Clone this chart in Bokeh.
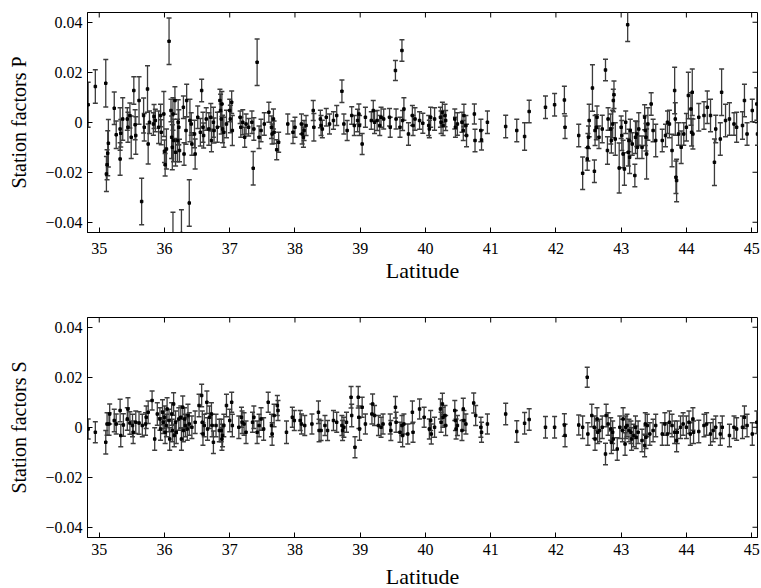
import math
from bokeh.plotting import figure
from bokeh.layouts import column
from bokeh.models import ColumnDataSource, LinearAxis, FixedTicker, Range1d
from bokeh.embed import file_html
from bokeh.resources import INLINE

# ---------------- data: P station factors ----------------
lat_p = [34.83, 34.94, 35.10, 35.11, 35.12, 35.13, 35.14, 35.23, 35.26, 35.32, 35.32, 35.33, 35.36, 35.43,
         35.44, 35.47, 35.49, 35.53, 35.55, 35.56, 35.61, 35.65, 35.68, 35.69, 35.74, 35.75, 35.77, 35.83,
         35.84, 35.86, 35.91, 35.94, 35.95, 35.99, 36.00, 36.01, 36.03, 36.07, 36.10, 36.11, 36.12, 36.13,
         36.14, 36.13, 36.16, 36.17, 36.20, 36.21, 36.22, 36.23, 36.26, 36.29, 36.30, 36.33, 36.34, 36.38,
         36.39, 36.41, 36.42, 36.46, 36.47, 36.51, 36.55, 36.57, 36.59, 36.60, 36.64, 36.68, 36.71, 36.72,
         36.75, 36.76, 36.81, 36.85, 36.86, 36.87, 36.88, 36.89, 36.91, 36.95, 37.00, 37.01, 37.03, 37.04,
         37.16, 37.17, 37.20, 37.23, 37.25, 37.29, 37.34, 37.36, 37.37, 37.42, 37.45, 37.48, 37.53, 37.60,
         37.64, 37.65, 37.67, 37.68, 37.72, 37.75, 37.89, 37.97, 38.00, 38.10, 38.11, 38.13, 38.14, 38.17,
         38.28, 38.29, 38.39, 38.40, 38.42, 38.48, 38.53, 38.59, 38.64, 38.72, 38.75, 38.80, 38.87, 38.91,
         38.96, 38.98, 38.99, 39.03, 39.08, 39.17, 39.20, 39.22, 39.26, 39.30, 39.32, 39.36, 39.45, 39.46,
         39.54, 39.55, 39.61, 39.64, 39.65, 39.67, 39.74, 39.80, 39.81, 39.84, 39.91, 39.96, 40.05, 40.06,
         40.08, 40.14, 40.23, 40.24, 40.26, 40.27, 40.30, 40.31, 40.45, 40.46, 40.49, 40.56, 40.58, 40.59,
         40.62, 40.63, 40.75, 40.76, 40.85, 40.86, 40.95, 41.23, 41.40, 41.52, 41.59, 41.84, 41.98, 42.13,
         42.14, 42.35, 42.41, 42.48, 42.49, 42.50, 42.51, 42.56, 42.59, 42.60, 42.62, 42.63, 42.66, 42.71,
         42.76, 42.79, 42.80, 42.84, 42.85, 42.87, 42.88, 42.89, 42.91, 42.97, 43.00, 43.01, 43.03, 43.05,
         43.07, 43.10, 43.11, 43.12, 43.13, 43.14, 43.17, 43.21, 43.22, 43.24, 43.25, 43.27, 43.32, 43.36,
         43.37, 43.38, 43.39, 43.41, 43.46, 43.49, 43.53, 43.63, 43.68, 43.71, 43.74, 43.78, 43.82, 43.83,
         43.84, 43.85, 43.88, 43.92, 43.96, 44.00, 44.03, 44.07, 44.08, 44.09, 44.10, 44.19, 44.27, 44.32,
         44.37, 44.43, 44.45, 44.52, 44.54, 44.60, 44.66, 44.73, 44.77, 44.86, 44.89, 44.93, 45.01, 45.08,
         45.09]
val_p = [0.0070, 0.0143, 0.0156, -0.0207, -0.0170, -0.0124, -0.0084, 0.0056, -0.0050, -0.0027, -0.0147, -0.0044, 0.0013, 0.0013,
         -0.0020, 0.0027, -0.0060, 0.0127, -0.0010, -0.0053, 0.0087, -0.0317, 0.0027, -0.0020, 0.0133, -0.0087, 0.0000, -0.0007,
         0.0023, 0.0007, -0.0020, 0.0027, -0.0040, 0.0033, -0.0116, -0.0170, -0.0107, 0.0324, 0.0047, -0.0060, -0.0100, 0.0033,
         -0.0073, -0.0455, 0.0087, -0.0120, -0.0073, 0.0000, -0.0020, -0.0113, -0.0445, 0.0060, -0.0127, -0.0033, 0.0087, -0.0323,
         0.0007, -0.0007, -0.0087, -0.0047, -0.0127, 0.0020, -0.0040, 0.0127, -0.0020, -0.0053, 0.0013, -0.0027, 0.0020, -0.0073,
         0.0000, -0.0033, -0.0020, 0.0087, 0.0047, 0.0013, 0.0073, -0.0027, -0.0040, -0.0007, 0.0047, 0.0013, 0.0080, -0.0033,
         0.0020, -0.0020, 0.0000, -0.0060, -0.0007, -0.0020, 0.0000, -0.0184, -0.0027, 0.0240, -0.0060, -0.0033, -0.0007, 0.0040,
         -0.0020, -0.0047, 0.0013, -0.0040, -0.0110, -0.0080, -0.0007, -0.0040, -0.0020, -0.0007, -0.0047, -0.0060, -0.0033, -0.0013,
         0.0047, -0.0020, 0.0013, -0.0013, -0.0027, 0.0020, -0.0007, 0.0007, 0.0027, 0.0124, -0.0007, -0.0033, 0.0027, -0.0013,
         0.0007, 0.0033, -0.0013, -0.0087, 0.0020, 0.0007, 0.0047, 0.0000, 0.0007, -0.0013, 0.0020, 0.0013, 0.0020, -0.0020,
         0.0207, 0.0013, -0.0020, 0.0287, 0.0007, 0.0053, -0.0047, 0.0027, -0.0013, 0.0013, 0.0007, -0.0004, -0.0013, -0.0027,
         0.0020, 0.0013, 0.0020, 0.0000, 0.0040, -0.0013, 0.0027, 0.0007, 0.0013, -0.0020, -0.0007, 0.0000, -0.0033, 0.0027,
         -0.0013, -0.0053, 0.0033, -0.0073, -0.0033, -0.0071, 0.0000, -0.0017, -0.0033, -0.0057, 0.0043, 0.0060, 0.0070, 0.0089,
         -0.0020, -0.0053, -0.0204, -0.0147, -0.0100, -0.0060, 0.0007, 0.0137, -0.0196, -0.0033, -0.0020, 0.0020, -0.0060, -0.0027,
         0.0209, -0.0113, 0.0013, -0.0027, -0.0073, -0.0007, 0.0087, 0.0110, -0.0067, -0.0183, -0.0020, -0.0053, -0.0127, -0.0187,
         0.0000, 0.0390, -0.0120, -0.0073, -0.0140, -0.0033, -0.0087, -0.0213, -0.0060, -0.0047, -0.0100, -0.0027, -0.0100, 0.0020,
         -0.0033, -0.0060, -0.0127, -0.0007, 0.0073, -0.0033, -0.0073, -0.0073, -0.0053, 0.0000, -0.0007, -0.0113, 0.0127, 0.0013,
         -0.0220, -0.0233, -0.0047, -0.0100, -0.0047, -0.0020, 0.0107, 0.0053, -0.0040, 0.0120, -0.0047, 0.0020, 0.0027, 0.0060,
         0.0027, -0.0160, -0.0027, -0.0067, 0.0120, 0.0007, 0.0013, -0.0007, -0.0020, -0.0013, 0.0087, -0.0047, 0.0047, 0.0073,
         -0.0047]
err_p = [0.0090, 0.0067, 0.0095, 0.0070, 0.0060, 0.0090, 0.0095, 0.0065, 0.0055, 0.0085, 0.0065, 0.0055, 0.0085, 0.0045,
         0.0060, 0.0050, 0.0085, 0.0055, 0.0060, 0.0075, 0.0095, 0.0093, 0.0070, 0.0055, 0.0093, 0.0080, 0.0045, 0.0045,
         0.0048, 0.0045, 0.0065, 0.0045, 0.0050, 0.0090, 0.0045, 0.0045, 0.0080, 0.0093, 0.0045, 0.0085, 0.0090, 0.0065,
         0.0085, 0.0095, 0.0055, 0.0055, 0.0085, 0.0090, 0.0070, 0.0045, 0.0095, 0.0045, 0.0045, 0.0055, 0.0065, 0.0093,
         0.0085, 0.0045, 0.0045, 0.0055, 0.0060, 0.0045, 0.0055, 0.0045, 0.0060, 0.0050, 0.0045, 0.0065, 0.0055, 0.0045,
         0.0060, 0.0050, 0.0060, 0.0045, 0.0065, 0.0060, 0.0050, 0.0055, 0.0060, 0.0055, 0.0045, 0.0055, 0.0045, 0.0060,
         0.0025, 0.0040, 0.0050, 0.0040, 0.0040, 0.0035, 0.0045, 0.0067, 0.0045, 0.0093, 0.0045, 0.0045, 0.0045, 0.0040,
         0.0045, 0.0040, 0.0040, 0.0045, 0.0040, 0.0040, 0.0040, 0.0045, 0.0040, 0.0040, 0.0040, 0.0040, 0.0040, 0.0040,
         0.0040, 0.0055, 0.0035, 0.0040, 0.0035, 0.0035, 0.0040, 0.0035, 0.0040, 0.0045, 0.0040, 0.0040, 0.0035, 0.0040,
         0.0045, 0.0040, 0.0040, 0.0042, 0.0040, 0.0035, 0.0040, 0.0045, 0.0040, 0.0040, 0.0040, 0.0040, 0.0035, 0.0040,
         0.0040, 0.0040, 0.0040, 0.0043, 0.0040, 0.0045, 0.0045, 0.0040, 0.0040, 0.0045, 0.0035, 0.0040, 0.0040, 0.0035,
         0.0040, 0.0045, 0.0040, 0.0045, 0.0040, 0.0040, 0.0045, 0.0040, 0.0040, 0.0040, 0.0045, 0.0040, 0.0040, 0.0045,
         0.0040, 0.0045, 0.0040, 0.0045, 0.0045, 0.0040, 0.0045, 0.0045, 0.0045, 0.0055, 0.0045, 0.0045, 0.0045, 0.0055,
         0.0045, 0.0045, 0.0065, 0.0045, 0.0055, 0.0045, 0.0065, 0.0093, 0.0045, 0.0060, 0.0050, 0.0045, 0.0045, 0.0055,
         0.0043, 0.0055, 0.0045, 0.0060, 0.0050, 0.0055, 0.0045, 0.0055, 0.0065, 0.0100, 0.0045, 0.0060, 0.0055, 0.0065,
         0.0045, 0.0067, 0.0055, 0.0045, 0.0065, 0.0045, 0.0045, 0.0045, 0.0065, 0.0050, 0.0045, 0.0065, 0.0045, 0.0050,
         0.0060, 0.0055, 0.0100, 0.0065, 0.0045, 0.0045, 0.0065, 0.0045, 0.0045, 0.0045, 0.0055, 0.0065, 0.0093, 0.0065,
         0.0065, 0.0085, 0.0045, 0.0065, 0.0045, 0.0055, 0.0093, 0.0065, 0.0055, 0.0093, 0.0060, 0.0055, 0.0055, 0.0065,
         0.0065, 0.0093, 0.0055, 0.0065, 0.0093, 0.0065, 0.0065, 0.0045, 0.0060, 0.0055, 0.0065, 0.0045, 0.0045, 0.0065,
         0.0045]

# ---------------- data: S station factors ----------------
lat_s = [34.83, 34.94, 35.10, 35.12, 35.15, 35.16, 35.23, 35.26, 35.32, 35.33, 35.37, 35.43, 35.44, 35.47, 35.51,
         35.52, 35.56, 35.61, 35.66, 35.71, 35.72, 35.75, 35.81, 35.85, 35.89, 35.93, 35.94, 35.97, 35.98, 36.00,
         36.01, 36.03, 36.04, 36.07, 36.08, 36.11, 36.12, 36.14, 36.15, 36.17, 36.18, 36.22, 36.25, 36.26, 36.28,
         36.29, 36.31, 36.32, 36.35, 36.36, 36.38, 36.42, 36.47, 36.53, 36.57, 36.58, 36.59, 36.61, 36.65, 36.66,
         36.69, 36.72, 36.73, 36.75, 36.79, 36.84, 36.87, 36.88, 36.89, 36.91, 36.95, 37.00, 37.03, 37.04, 37.14,
         37.18, 37.19, 37.22, 37.25, 37.35, 37.37, 37.42, 37.45, 37.48, 37.52, 37.59, 37.64, 37.65, 37.68, 37.73,
         37.74, 37.87, 37.96, 37.99, 38.08, 38.10, 38.15, 38.26, 38.36, 38.37, 38.40, 38.46, 38.50, 38.59, 38.64,
         38.72, 38.73, 38.75, 38.79, 38.86, 38.87, 38.92, 38.97, 38.98, 38.99, 39.03, 39.08, 39.18, 39.19, 39.22,
         39.28, 39.32, 39.35, 39.46, 39.47, 39.54, 39.55, 39.61, 39.64, 39.65, 39.67, 39.73, 39.80, 39.81, 39.91,
         39.98, 40.06, 40.08, 40.09, 40.14, 40.23, 40.24, 40.26, 40.27, 40.30, 40.31, 40.45, 40.46, 40.47, 40.49,
         40.56, 40.58, 40.59, 40.62, 40.74, 40.77, 40.85, 40.86, 40.95, 41.23, 41.40, 41.52, 41.59, 41.84, 41.98,
         42.13, 42.14, 42.35, 42.41, 42.48, 42.49, 42.55, 42.59, 42.60, 42.63, 42.64, 42.67, 42.71, 42.76, 42.77,
         42.80, 42.84, 42.85, 42.87, 42.88, 42.94, 42.98, 43.02, 43.03, 43.06, 43.07, 43.09, 43.12, 43.15, 43.16,
         43.19, 43.22, 43.23, 43.26, 43.32, 43.36, 43.37, 43.38, 43.40, 43.44, 43.49, 43.53, 43.63, 43.67, 43.71,
         43.74, 43.78, 43.82, 43.85, 43.86, 43.91, 43.95, 44.00, 44.04, 44.06, 44.10, 44.11, 44.19, 44.27, 44.31,
         44.37, 44.41, 44.45, 44.52, 44.55, 44.66, 44.73, 44.77, 44.86, 44.89, 44.93, 45.01, 45.08]
val_s = [-0.0007, -0.0020, -0.0060, 0.0013, 0.0013, 0.0053, 0.0027, 0.0013, 0.0067, -0.0033, 0.0009, 0.0033, 0.0073, 0.0017, 0.0007,
         -0.0020, 0.0020, 0.0017, 0.0007, 0.0013, 0.0040, 0.0060, 0.0107, -0.0047, 0.0053, 0.0033, -0.0007, 0.0060, 0.0020, 0.0040,
         -0.0020, 0.0007, 0.0073, 0.0027, -0.0047, 0.0053, -0.0013, 0.0093, -0.0033, 0.0020, -0.0020, 0.0033, 0.0040, -0.0047, 0.0080,
         -0.0013, 0.0033, 0.0007, -0.0007, 0.0047, 0.0013, 0.0000, 0.0020, 0.0087, 0.0127, 0.0020, -0.0027, 0.0007, 0.0100, -0.0007,
         0.0040, 0.0053, 0.0007, -0.0060, 0.0007, -0.0013, -0.0013, -0.0047, -0.0033, 0.0007, 0.0087, 0.0027, 0.0100, 0.0007, 0.0000,
         0.0040, 0.0020, 0.0013, -0.0020, 0.0020, 0.0040, -0.0020, 0.0007, 0.0033, -0.0007, 0.0100, 0.0007, -0.0027, 0.0047, 0.0087,
         0.0067, -0.0020, 0.0040, 0.0027, 0.0027, 0.0013, 0.0007, 0.0013, 0.0060, -0.0013, -0.0013, 0.0007, -0.0013, 0.0027, 0.0020,
         0.0007, -0.0013, 0.0000, 0.0020, 0.0120, 0.0047, -0.0080, 0.0120, 0.0040, -0.0007, 0.0080, 0.0013, 0.0053, 0.0093, 0.0047,
         0.0007, 0.0000, 0.0013, 0.0013, -0.0013, 0.0080, 0.0020, -0.0020, 0.0007, -0.0033, 0.0013, -0.0027, 0.0060, -0.0020, 0.0073,
         0.0040, -0.0007, 0.0027, -0.0027, 0.0000, 0.0073, 0.0020, 0.0093, 0.0040, 0.0047, 0.0007, 0.0067, 0.0027, -0.0007, 0.0007,
         -0.0013, 0.0073, 0.0027, 0.0013, 0.0097, 0.0047, 0.0000, -0.0020, 0.0013, 0.0053, -0.0017, 0.0016, 0.0031, 0.0000, 0.0000,
         0.0009, -0.0033, 0.0009, 0.0000, 0.0200, -0.0027, 0.0047, 0.0000, -0.0047, 0.0033, -0.0020, -0.0013, 0.0000, -0.0107, 0.0047,
         0.0013, -0.0007, -0.0060, -0.0020, -0.0047, -0.0087, 0.0000, -0.0013, 0.0033, -0.0067, 0.0000, 0.0007, -0.0013, -0.0020, -0.0047,
         -0.0033, 0.0000, -0.0040, -0.0020, -0.0053, -0.0073, 0.0013, -0.0040, 0.0007, -0.0027, -0.0013, 0.0007, -0.0027, 0.0013, -0.0027,
         0.0020, 0.0007, -0.0020, -0.0053, -0.0020, 0.0000, 0.0013, 0.0000, 0.0020, -0.0027, 0.0033, -0.0020, -0.0017, 0.0007, 0.0013,
         -0.0027, -0.0013, 0.0000, -0.0027, 0.0000, -0.0033, 0.0000, -0.0007, 0.0000, 0.0040, 0.0007, -0.0027, 0.0020]
err_s = [0.0040, 0.0042, 0.0047, 0.0045, 0.0045, 0.0040, 0.0045, 0.0040, 0.0045, 0.0045, 0.0045, 0.0045, 0.0045, 0.0045, 0.0045,
         0.0045, 0.0045, 0.0045, 0.0045, 0.0045, 0.0045, 0.0045, 0.0038, 0.0045, 0.0045, 0.0045, 0.0045, 0.0050, 0.0045, 0.0045,
         0.0045, 0.0045, 0.0045, 0.0045, 0.0045, 0.0045, 0.0045, 0.0045, 0.0045, 0.0045, 0.0045, 0.0045, 0.0045, 0.0045, 0.0045,
         0.0045, 0.0045, 0.0045, 0.0045, 0.0045, 0.0045, 0.0045, 0.0045, 0.0045, 0.0045, 0.0045, 0.0045, 0.0045, 0.0045, 0.0045,
         0.0045, 0.0045, 0.0045, 0.0045, 0.0045, 0.0045, 0.0045, 0.0045, 0.0045, 0.0045, 0.0045, 0.0045, 0.0040, 0.0045, 0.0045,
         0.0040, 0.0045, 0.0045, 0.0045, 0.0040, 0.0045, 0.0045, 0.0045, 0.0045, 0.0045, 0.0040, 0.0045, 0.0045, 0.0045, 0.0040,
         0.0040, 0.0045, 0.0040, 0.0040, 0.0040, 0.0040, 0.0040, 0.0040, 0.0045, 0.0045, 0.0040, 0.0040, 0.0040, 0.0040, 0.0040,
         0.0040, 0.0040, 0.0040, 0.0040, 0.0043, 0.0045, 0.0042, 0.0043, 0.0045, 0.0045, 0.0040, 0.0040, 0.0040, 0.0040, 0.0040,
         0.0040, 0.0040, 0.0040, 0.0040, 0.0040, 0.0043, 0.0040, 0.0040, 0.0040, 0.0045, 0.0040, 0.0040, 0.0045, 0.0040, 0.0040,
         0.0040, 0.0040, 0.0040, 0.0040, 0.0040, 0.0040, 0.0040, 0.0043, 0.0040, 0.0040, 0.0040, 0.0040, 0.0040, 0.0040, 0.0040,
         0.0040, 0.0043, 0.0040, 0.0040, 0.0040, 0.0040, 0.0040, 0.0040, 0.0040, 0.0043, 0.0043, 0.0043, 0.0043, 0.0043, 0.0043,
         0.0045, 0.0045, 0.0040, 0.0045, 0.0040, 0.0045, 0.0045, 0.0045, 0.0045, 0.0045, 0.0045, 0.0045, 0.0045, 0.0043, 0.0045,
         0.0045, 0.0045, 0.0045, 0.0045, 0.0045, 0.0045, 0.0045, 0.0045, 0.0045, 0.0045, 0.0045, 0.0045, 0.0045, 0.0045, 0.0045,
         0.0045, 0.0045, 0.0045, 0.0045, 0.0045, 0.0045, 0.0045, 0.0045, 0.0045, 0.0045, 0.0045, 0.0045, 0.0045, 0.0045, 0.0045,
         0.0045, 0.0045, 0.0045, 0.0045, 0.0045, 0.0045, 0.0045, 0.0045, 0.0045, 0.0045, 0.0045, 0.0045, 0.0045, 0.0045, 0.0045,
         0.0045, 0.0045, 0.0045, 0.0045, 0.0045, 0.0045, 0.0045, 0.0045, 0.0045, 0.0045, 0.0045, 0.0045, 0.0045]

x_ticks = [35, 36, 37, 38, 39, 40, 41, 42, 43, 44, 45]
y_ticks = [-0.04, -0.02, 0, 0.02, 0.04]
y_tick_labels = {-0.04: "\u22120.04", -0.02: "\u22120.02", 0: "0", 0.02: "0.02", 0.04: "0.04"}

FONT = "Liberation Serif"
BAR = "#3c3c3c"
X0, X1 = 34.82, 45.09
Y0, Y1 = -0.0441, 0.0439


def make_panel(lat, val, err, ylabel, top_border, bottom_border, tick_standoff, label_standoff):
    upper = [v + e for v, e in zip(val, err)]
    lower = [v - e for v, e in zip(val, err)]
    src = ColumnDataSource(dict(x=lat, y=val, up=upper, lo=lower))
    p = figure(frame_width=670, frame_height=220, output_backend="svg", toolbar_location=None,
               x_range=Range1d(X0, X1), y_range=Range1d(Y0, Y1),
               min_border_left=87, min_border_right=4, min_border_top=top_border,
               min_border_bottom=bottom_border, x_axis_location=None, y_axis_location=None)
    p.grid.visible = False
    p.outline_line_color = "black"
    p.outline_line_width = 1
    p.background_fill_color = "white"
    p.border_fill_color = "white"

    p.segment(x0="x", y0="lo", x1="x", y1="up", source=src, line_color=BAR, line_width=1.3)
    p.scatter(x="x", y="up", source=src, marker="dash", size=5, line_color=BAR, line_width=1.3)
    p.scatter(x="x", y="lo", source=src, marker="dash", size=5, line_color=BAR, line_width=1.3)
    p.scatter(x="x", y="y", source=src, marker="square", size=2.5, color="black")

    # inward ticks on the top and right edges (half of each dash is clipped by the frame)
    p.scatter(x=x_ticks, y=[Y1] * len(x_ticks), marker="dash", angle=math.pi / 2, size=10,
              line_color="black", line_width=1)
    p.scatter(x=[X1] * len(y_ticks), y=y_ticks, marker="dash", size=10,
              line_color="black", line_width=1)

    def style(ax):
        ax.major_tick_in = 5
        ax.major_tick_out = 0
        ax.minor_tick_line_color = None
        ax.axis_line_color = "black"
        ax.major_tick_line_color = "black"
        ax.major_label_text_font = FONT
        ax.major_label_text_color = "black"
        ax.major_label_text_font_size = "16px"
        ax.axis_label_text_font = FONT
        ax.axis_label_text_font_style = "normal"
        ax.axis_label_text_color = "black"

    xb = LinearAxis(ticker=FixedTicker(ticks=x_ticks), axis_label="Latitude")
    style(xb)
    xb.axis_label_text_font_size = "22px"
    xb.major_label_standoff = tick_standoff
    xb.axis_label_standoff = label_standoff
    p.add_layout(xb, "below")

    yl = LinearAxis(ticker=FixedTicker(ticks=y_ticks), axis_label=ylabel,
                    major_label_overrides=y_tick_labels)
    style(yl)
    yl.axis_label_text_font_size = "20px"
    yl.major_label_standoff = 5
    yl.axis_label_standoff = 12
    p.add_layout(yl, "left")
    return p


p1 = make_panel(lat_p, val_p, err_p, "Station factors P", 12, 81, 10, 1)
p2 = make_panel(lat_s, val_s, err_s, "Station factors S", 4, 50, 6, 6)

layout = column(p1, p2, spacing=0)
open("out.html", "w").write(file_html(layout, INLINE))
